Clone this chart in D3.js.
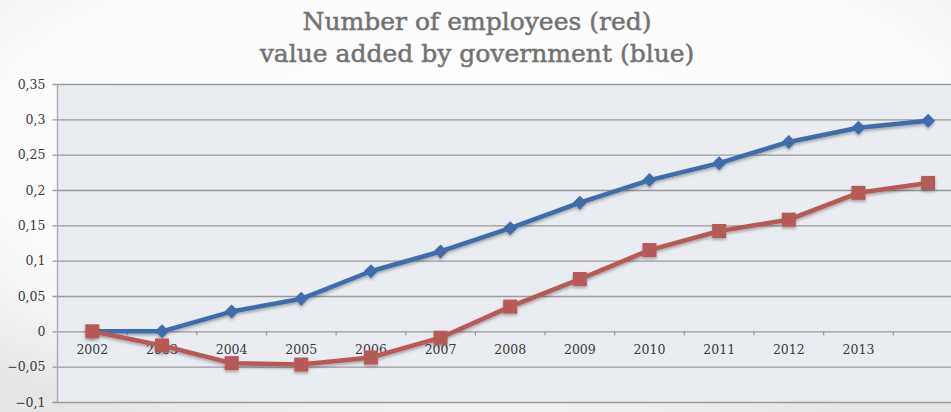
<!DOCTYPE html>
<html>
<head>
<meta charset="utf-8">
<script src="https://cdn.jsdelivr.net/npm/d3@7"></script>
<style>
  html, body { margin: 0; padding: 0; }
  body { width: 951px; height: 412px; overflow: hidden; }
</style>
</head>
<body>
<svg id="chart" width="951" height="412"></svg>
<script>
// Category labels along the x axis (last point has no printed year)
const categories = ["2002","2003","2004","2005","2006","2007","2008","2009","2010","2011","2012","2013",""];
// Value added by government (blue)
const valueAdded = [0, 0, 0.028, 0.046, 0.085, 0.113, 0.146, 0.182, 0.214, 0.238, 0.268, 0.288, 0.298];
// Number of employees (red)
const employees = [0, -0.020, -0.045, -0.047, -0.037, -0.009, 0.035, 0.074, 0.115, 0.142, 0.158, 0.196, 0.210];
// Y axis ticks
const yTicks = [-0.1, -0.05, 0, 0.05, 0.1, 0.15, 0.2, 0.25, 0.3, 0.35];
const titleLines = ["Number of employees (red)", "value added by government (blue)"];

const tickFont = "'DejaVu Serif', 'Liberation Serif', serif";
const titleFont = "'DejaVu Serif', 'Liberation Serif', serif";
const svg = d3.select("#chart");
const W = 951, H = 412;

// soft page background
const defs = svg.append("defs");
const bg = defs.append("radialGradient").attr("id", "pageBg")
  .attr("cx", "50%").attr("cy", "35%").attr("r", "75%");
bg.append("stop").attr("offset", "0%").attr("stop-color", "#ffffff");
bg.append("stop").attr("offset", "70%").attr("stop-color", "#fbfbfb");
bg.append("stop").attr("offset", "100%").attr("stop-color", "#e6e6e6");
svg.append("rect").attr("width", W).attr("height", H).attr("fill", "url(#pageBg)");

const shadow = defs.append("filter").attr("id", "shadow")
  .attr("x", "-10%").attr("y", "-10%").attr("width", "120%").attr("height", "130%");
shadow.append("feDropShadow").attr("dx", 0).attr("dy", 2).attr("stdDeviation", 1.6)
  .attr("flood-color", "#000").attr("flood-opacity", 0.3);

const plot = { left: 57.5, top: 84, bottom: 402 };
const step = 69.65;

const x = d3.scaleBand().domain(categories.map((c, i) => i))
  .range([plot.left, plot.left + step * categories.length]).padding(0);
const cx = i => x(i) + x.bandwidth() / 2;
const y = d3.scaleLinear().domain([-0.1, 0.35]).range([plot.bottom, plot.top]);

// plot area
svg.append("rect")
  .attr("x", plot.left).attr("y", y(0.35))
  .attr("width", W - plot.left).attr("height", y(-0.1) - y(0.35))
  .attr("fill", "#e9ecf1");

// horizontal grid + y axis
const yAxis = d3.axisLeft(y).tickValues(yTicks)
  .tickSize(0).tickPadding(0)
  .tickFormat(d => d3.format("")(+d.toFixed(2)).replace(".", ","));
const gy = svg.append("g").attr("transform", `translate(${plot.left - 5},0)`).call(yAxis);
gy.select(".domain").remove();
gy.selectAll(".tick line").attr("stroke", "#9a9a9c").attr("stroke-width", 1.4)
  .attr("x1", 0).attr("x2", W - plot.left + 5);
gy.selectAll(".tick text")
  .attr("x", -7)
  .style("font-family", tickFont)
  .style("font-size", "12.5px").attr("fill", "#3a3a3a");

// left vertical axis line
svg.append("line")
  .attr("x1", plot.left).attr("x2", plot.left)
  .attr("y1", y(0.35)).attr("y2", y(-0.1))
  .attr("stroke", "#a8abb0").attr("stroke-width", 1.4);

// x axis on the zero line
const xAxis = d3.axisBottom(x).tickSize(0).tickPadding(14)
  .tickFormat(i => categories[i]);
const gx = svg.append("g").attr("transform", `translate(0,${y(0)})`).call(xAxis);
gx.select(".domain").remove();
gx.selectAll(".tick text")
  .style("font-family", tickFont)
  .style("font-size", "12.5px").attr("fill", "#3a3a3a");
// minor ticks between categories
svg.append("g").selectAll("line")
  .data(categories.map((c, i) => i).slice(1))
  .join("line")
  .attr("x1", i => x(i)).attr("x2", i => x(i))
  .attr("y1", y(0)).attr("y2", y(0) + 4)
  .attr("stroke", "#9a9a9c").attr("stroke-width", 1.2);

const line = d3.line().x((d, i) => cx(i)).y(d => y(d));

// square-proportioned diamond marker
const diamond = {
  draw(ctx, size) {
    const r = Math.sqrt(size / 2);
    ctx.moveTo(0, -r); ctx.lineTo(r, 0); ctx.lineTo(0, r); ctx.lineTo(-r, 0); ctx.closePath();
  }
};

// blue series: value added
const blue = "#3f6ca9";
const gBlue = svg.append("g").attr("filter", "url(#shadow)");
gBlue.append("path").datum(valueAdded).attr("d", line)
  .attr("fill", "none").attr("stroke", blue).attr("stroke-width", 4.5)
  .attr("stroke-linejoin", "round");
gBlue.selectAll("path.m").data(valueAdded).join("path").attr("class", "m")
  .attr("d", d3.symbol().type(diamond).size(98))
  .attr("transform", (d, i) => `translate(${cx(i)},${y(d)})`)
  .attr("fill", blue);

// red series: employees (drawn on top)
const red = "#b65a58";
const gRed = svg.append("g").attr("filter", "url(#shadow)");
gRed.append("path").datum(employees).attr("d", line)
  .attr("fill", "none").attr("stroke", red).attr("stroke-width", 4.5)
  .attr("stroke-linejoin", "round");
gRed.selectAll("rect").data(employees).join("rect")
  .attr("x", (d, i) => cx(i) - 7).attr("y", d => y(d) - 7)
  .attr("width", 14).attr("height", 14).attr("fill", red);

// title
svg.append("g").selectAll("text").data(titleLines).join("text")
  .attr("x", 477).attr("y", (d, i) => 30 + i * 32)
  .attr("text-anchor", "middle")
  .style("font-family", titleFont)
  .style("font-size", "25px").attr("fill", "#727272")
  .attr("stroke", "#727272").attr("stroke-width", 0.5)
  .text(d => d);
</script>
</body>
</html>
